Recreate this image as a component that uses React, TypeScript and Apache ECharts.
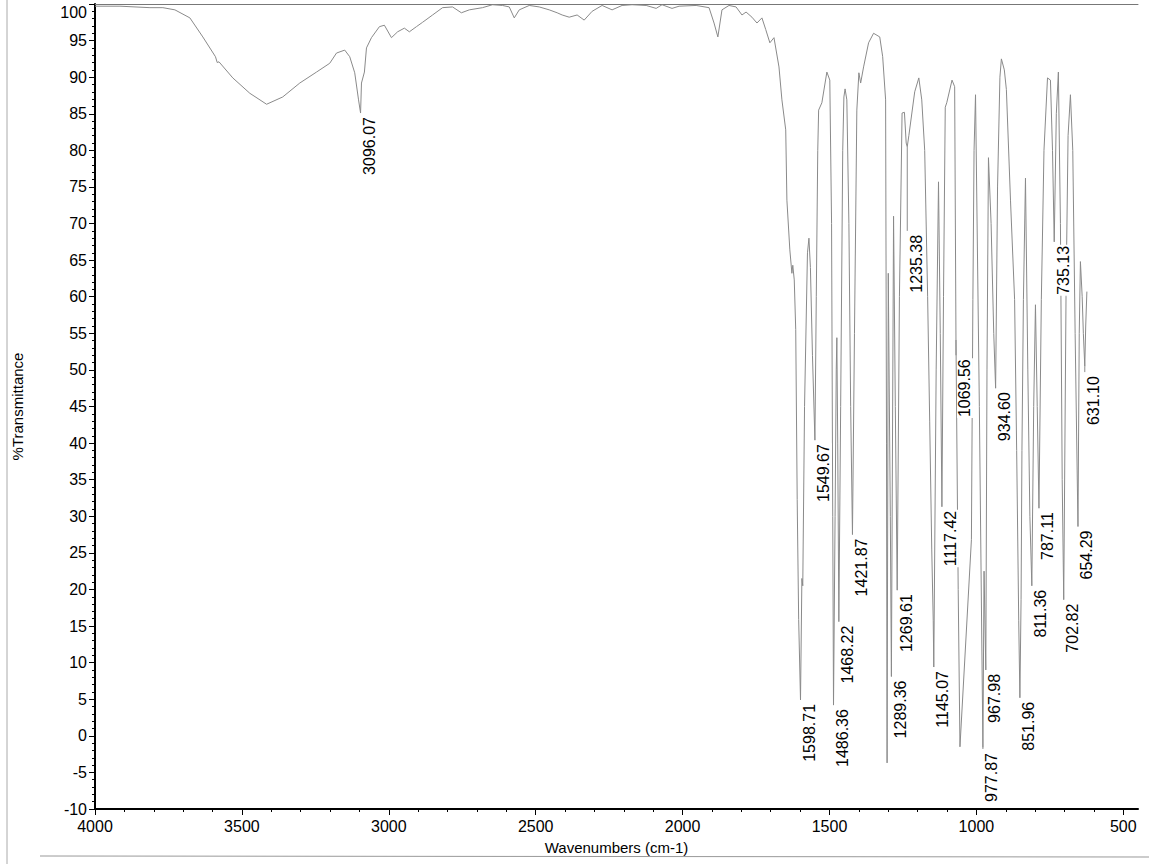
import React, { useEffect, useRef } from "react";
import * as echarts from "echarts";

// Spectrum trace (wavenumber cm-1, %T)
const waveNumbers: number[] = [
  4000, 3915, 3813, 3769, 3728, 3677, 3633, 3590, 3584, 3578, 3531, 3473, 3416, 3361, 3303, 3246, 3201, 3178, 3150, 3133,
  3116, 3103, 3096.07, 3093, 3083, 3076, 3059, 3032, 3015, 2991, 2970, 2947, 2930, 2906, 2885, 2851, 2817, 2783, 2753, 2726,
  2681, 2647, 2613, 2590, 2573, 2556, 2522, 2488, 2454, 2427, 2410, 2386, 2359, 2335, 2308, 2274, 2240, 2206, 2172, 2124,
  2090, 2070, 2036, 2012, 1954, 1910, 1893, 1880, 1866, 1842, 1818, 1798, 1784, 1764, 1747, 1730, 1717, 1703, 1689, 1672,
  1662, 1649, 1645, 1635, 1628, 1625, 1620, 1615, 1610, 1605, 1598.71, 1594, 1591, 1585, 1575, 1570, 1565, 1558, 1549.67, 1545,
  1540, 1537, 1526, 1509, 1499, 1493, 1489, 1486.36, 1481, 1477, 1475, 1472, 1468.22, 1462, 1455, 1451, 1447, 1441, 1434, 1428,
  1421.87, 1415, 1407, 1400, 1394, 1384, 1367, 1350, 1329, 1319, 1309, 1306, 1304, 1300, 1293, 1289.36, 1282, 1276, 1269.61, 1262,
  1253, 1245, 1239, 1235.38, 1230, 1210, 1196, 1186, 1176, 1166, 1159, 1152, 1147, 1145.07, 1137, 1129, 1123, 1117.42, 1112, 1106,
  1101, 1083, 1074, 1069.56, 1062, 1056, 1017, 1012, 1008, 1003, 990, 977.87, 974, 967.98, 964, 959, 950, 941, 934.6, 928,
  920, 915, 905, 898, 884, 870, 863, 856, 851.96, 848, 845, 840, 833, 825, 818, 811.36, 805, 799, 793, 787.11,
  779, 770, 758, 748, 741, 735.13, 728, 721, 714, 708, 702.82, 695, 688, 680, 672, 664, 654.29, 650, 646, 640,
  636, 631.1, 628, 624,
];
const transmittance: number[] = [
  99.7, 99.7, 99.5, 99.5, 99.2, 98.1, 95.5, 92.8, 92.0, 92.1, 89.9, 87.8, 86.3, 87.3, 89.2, 90.7, 91.9, 93.3, 93.7, 92.8,
  90.6, 86.9, 85.1, 89.2, 90.7, 94.0, 95.4, 96.9, 97.1, 95.4, 96.2, 96.7, 96.2, 96.9, 97.5, 98.5, 99.5, 99.6, 98.8, 99.2,
  99.5, 99.9, 99.8, 99.6, 98.1, 99.2, 99.8, 99.6, 99.2, 98.8, 98.5, 98.2, 98.5, 97.8, 99.0, 99.8, 99.2, 99.8, 99.9, 99.8,
  99.4, 99.9, 99.4, 99.7, 99.8, 99.5, 97.4, 95.5, 99.2, 99.8, 99.6, 98.5, 98.9, 98.2, 97.4, 98.1, 96.5, 94.7, 95.4, 91.4,
  86.9, 82.8, 73.2, 66.4, 63.2, 64.3, 62.3, 55.5, 32.3, 15.9, 4.9, 21.5, 20.5, 45, 66, 68.0, 64, 52, 40.4, 60,
  80, 85.5, 86.5, 90.7, 89.6, 70, 30, 4.2, 30, 50, 54.4, 40, 15.6, 45, 80, 87.3, 88.4, 86.9, 70, 45,
  27.5, 55, 85.5, 90.6, 89.2, 91.4, 94.7, 96.0, 95.5, 92.8, 86.9, 40, -3.7, 63.2, 30, 8.1, 71, 45, 19.9, 60,
  85.1, 85.2, 81, 80.5, 82, 88, 89.9, 86.9, 80, 60, 43, 25.4, 15.8, 9.4, 50, 75.7, 55, 31.3, 60, 85.9,
  86.5, 89.6, 88.7, 54.1, 20, -1.5, 26.8, 59.6, 80, 87.6, 45, -1.6, 22.5, 9.0, 50, 79, 70, 55, 47.5, 75,
  90, 92.5, 91, 88.3, 73.2, 59.6, 39, 15.8, 5.2, 18.6, 39, 59.6, 76.2, 50, 30, 20.5, 45, 58.9, 45, 31.1,
  59.6, 80, 89.9, 89.6, 80, 67.5, 85, 90.7, 70, 35, 18.6, 60, 82, 87.6, 80, 55, 28.6, 55, 64.8, 60,
  55, 50.5, 56, 60.7,
];

// Peak annotations
const peakLabels: string[] = [
  "3096.07", "1598.71", "1549.67", "1486.36", "1468.22", "1421.87", "1289.36", "1269.61", "1235.38", "1145.07", "1117.42",
  "1069.56", "977.87", "967.98", "934.60", "851.96", "811.36", "787.11", "735.13", "702.82", "654.29", "631.10",
];
const peakT: number[] = [
  85.1, 4.9, 40.4, 4.2, 15.6, 27.5, 8.1, 19.9, 80.5, 9.4, 31.3, 54.1, -1.6, 9.0, 47.5, 5.2, 20.5, 31.1, 67.5, 18.6, 28.6, 50.5,
];
const labelT: number[] = [
  85.1, 4.9, 40.4, 4.2, 15.6, 27.5, 8.1, 19.9, 69.0, 9.4, 31.3, 52.0, -1.8, 9.0, 47.5, 5.2, 20.5, 31.1, 67.5, 18.6, 28.6, 49.7,
];

const xMajorTicks: number[] = [4000, 3500, 3000, 2500, 2000, 1500, 1000, 500];
const xMinorTicks: number[] = [
  3900, 3800, 3700, 3600, 3400, 3300, 3200, 3100, 2900, 2800, 2700, 2600, 2400, 2300, 2200, 2100,
  1900, 1800, 1700, 1600, 1400, 1300, 1200, 1100, 900, 800, 700, 600,
];

const FONT = "Arial, 'Liberation Sans', sans-serif";

export default function App() {
  const ref = useRef<HTMLDivElement>(null);
  useEffect(() => {
    if (!ref.current) return;
    const chart = echarts.init(ref.current, null, { renderer: "svg" });
    const spectrum = waveNumbers.map((w, i) => [w, transmittance[i]]);
    const peaks = peakLabels.map((s, i) => [parseFloat(s), peakT[i], labelT[i]]);
    chart.setOption({
      animation: false,
      backgroundColor: "#ffffff",
      grid: { left: 95, right: 11, top: 4, bottom: 55, containLabel: false },
      xAxis: [
        {
          type: "value",
          position: "bottom",
          min: 450,
          max: 4000,
          inverse: true,
          name: "Wavenumbers (cm-1)",
          nameLocation: "middle",
          nameGap: 31,
          nameTextStyle: { fontSize: 15, color: "#000", fontFamily: FONT },
          axisLine: { show: true, onZero: false, lineStyle: { color: "#000", width: 2 } },
          axisTick: { show: true, customValues: xMajorTicks, length: 6, lineStyle: { color: "#000" } },
          axisLabel: {
            customValues: xMajorTicks,
            fontSize: 16,
            color: "#000",
            fontFamily: FONT,
            margin: 9,
            formatter: (v: number) => String(v),
          },
          splitLine: { show: false },
        },
        {
          type: "value",
          position: "top",
          min: 450,
          max: 4000,
          inverse: true,
          axisLine: { show: true, onZero: false, lineStyle: { color: "#777", width: 1 } },
          axisTick: { show: false },
          axisLabel: { show: false },
          splitLine: { show: false },
        },
        {
          type: "value",
          position: "bottom",
          min: 450,
          max: 4000,
          inverse: true,
          axisLine: { show: false, onZero: false },
          axisTick: { show: true, customValues: xMinorTicks, length: 3, lineStyle: { color: "#000" } },
          axisLabel: { show: false },
          splitLine: { show: false },
        },
      ],
      yAxis: {
        type: "value",
        min: -10,
        max: 100,
        interval: 5,
        name: "%Transmittance",
        nameLocation: "middle",
        nameGap: 70,
        nameRotate: 90,
        nameTextStyle: { fontSize: 15, color: "#000", fontFamily: FONT },
        axisLine: { show: true, onZero: false, lineStyle: { color: "#000", width: 2 } },
        axisTick: { show: true, length: 6, lineStyle: { color: "#000" } },
        minorTick: { show: true, splitNumber: 5, length: 3, lineStyle: { color: "#000" } },
        axisLabel: { fontSize: 16, color: "#000", fontFamily: FONT, margin: 8, verticalAlignMaxLabel: "top" },
        splitLine: { show: false },
      },
      graphic: [
        { type: "line", shape: { x1: 7, y1: 0, x2: 7, y2: 864 }, style: { stroke: "#aaa", lineWidth: 1 }, silent: true },
        { type: "line", shape: { x1: 40, y1: 856, x2: 1149, y2: 857 }, style: { stroke: "#999", lineWidth: 1 }, silent: true },
      ],
      series: [
        {
          type: "line",
          xAxisIndex: 0,
          yAxisIndex: 0,
          data: spectrum,
          showSymbol: false,
          symbol: "none",
          lineStyle: { color: "#8a8a8a", width: 1 },
          silent: true,
          z: 2,
        },
        {
          type: "custom",
          xAxisIndex: 0,
          yAxisIndex: 0,
          data: peaks,
          silent: true,
          z: 5,
          renderItem: (params: any, api: any) => {
            const i = params.dataIndex;
            const w = api.value(0);
            const p = api.coord([w, api.value(1)]);
            const l = api.coord([w, api.value(2)]);
            return {
              type: "group",
              children: [
                {
                  type: "line",
                  shape: { x1: p[0], y1: p[1], x2: l[0], y2: l[1] },
                  style: { stroke: "#8a8a8a", lineWidth: 1 },
                },
                {
                  type: "text",
                  x: l[0] + 1,
                  y: l[1] + 3,
                  rotation: Math.PI / 2,
                  style: {
                    text: peakLabels[i],
                    fill: "#000",
                    fontSize: 16,
                    fontFamily: FONT,
                    align: "right",
                    verticalAlign: "top",
                    backgroundColor: "#fff",
                    padding: [0, 1, 0, 1],
                  },
                },
              ],
            };
          },
        },
      ],
    });
    return () => chart.dispose();
  }, []);
  return (
    <div
      ref={ref}
      style={{ position: "fixed", left: 0, top: 0, width: 1149, height: 864, background: "#fff" }}
    />
  );
}
